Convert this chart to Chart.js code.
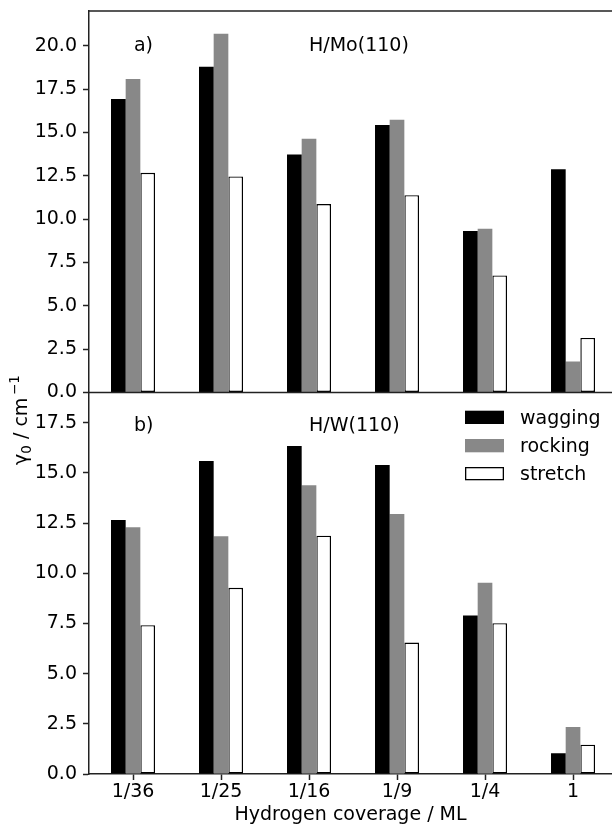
<!DOCTYPE html>
<html>
<head>
<meta charset="utf-8">
<script src="https://cdn.jsdelivr.net/npm/chart.js@4/dist/chart.umd.min.js"></script>
<style>
  html, body { margin: 0; padding: 0; background: #fff; overflow: hidden; }
  #c { display: block; }
</style>
</head>
<body>
<canvas id="c" width="612" height="826"></canvas>
<script>
// ---- data ----
const categories = ['1/36', '1/25', '1/16', '1/9', '1/4', '1'];
const seriesNames = ['wagging', 'rocking', 'stretch'];
const moWagging = [16.92, 18.79, 13.73, 15.42, 9.31, 12.88];
const moRocking = [18.08, 20.69, 14.63, 15.73, 9.44, 1.79];
const moStretch = [12.67, 12.46, 10.87, 11.38, 6.75, 3.15];
const wWagging  = [12.65, 15.59, 16.33, 15.39, 7.89, 1.03];
const wRocking  = [12.29, 11.84, 14.38, 12.95, 9.52, 2.34];
const wStretch  = [7.41, 9.27, 11.87, 6.55, 7.51, 1.46];
const yTicksTop = [0, 2.5, 5, 7.5, 10, 12.5, 15, 17.5, 20];
const yTicksBottom = [0, 2.5, 5, 7.5, 10, 12.5, 15, 17.5];
const panelTitles = ['H/Mo(110)', 'H/W(110)'];
const panelLetters = ['a)', 'b)'];
const xTitle = 'Hydrogen coverage / ML';

const FONT = 'DejaVu Sans';
const AX = '#222222';
Chart.defaults.font.family = FONT;
Chart.defaults.font.size = 19;
Chart.defaults.color = '#000';

const toPts = arr => arr.map((v, i) => ({ x: i, y: v }));
const styles = {
  wagging: { backgroundColor: '#000000', borderWidth: 0 },
  rocking: { backgroundColor: '#888888', borderWidth: 0 },
  stretch: { backgroundColor: '#ffffff', borderColor: '#000000', borderWidth: 1.4, borderSkipped: false }
};
function ds(name, values, axis) {
  return Object.assign({ label: name, data: toPts(values), yAxisID: axis, stack: name }, styles[name]);
}

const datasets = [
  ds('wagging', moWagging, 'yA'), ds('rocking', moRocking, 'yA'), ds('stretch', moStretch, 'yA'),
  ds('wagging', wWagging, 'yB'), ds('rocking', wRocking, 'yB'), ds('stretch', wStretch, 'yB')
];

function yAxis(ticksArr, max) {
  return {
    type: 'linear', position: 'left', stack: 'v', stackWeight: 1, stacked: false,
    min: 0, max: max, z: 1,
    afterBuildTicks: s => { s.ticks = ticksArr.map(v => ({ value: v })); },
    afterFit: s => { s.width = 89; s.paddingTop = 0; s.paddingBottom = 0; },
    ticks: { padding: 6, autoSkip: false, callback: v => Number(v).toFixed(1), font: { size: 19 }, color: '#000' },
    grid: { display: true, drawOnChartArea: false, drawTicks: true, tickLength: 6, tickColor: AX, tickWidth: 1.5 },
    border: { display: true, color: AX, width: 1.5 }
  };
}

const annot = {
  id: 'annot',
  afterDraw(chart) {
    const ctx = chart.ctx;
    const ca = chart.chartArea;
    const x = chart.scales.x, yA = chart.scales.yA, yB = chart.scales.yB;
    ctx.save();
    // top spine and shared middle spine
    ctx.strokeStyle = AX; ctx.lineWidth = 1.5;
    ctx.beginPath();
    ctx.moveTo(ca.left, yA.top); ctx.lineTo(ca.right, yA.top);
    ctx.moveTo(ca.left, yA.bottom); ctx.lineTo(ca.right, yA.bottom);
    ctx.stroke();
    // panel texts
    ctx.fillStyle = '#000';
    ctx.font = '19px "' + FONT + '"';
    ctx.textBaseline = 'alphabetic'; ctx.textAlign = 'left';
    ctx.fillText(panelLetters[0], x.getPixelForValue(0.01), yA.getPixelForValue(19.7));
    ctx.fillText(panelTitles[0], x.getPixelForValue(2.0), yA.getPixelForValue(19.7));
    ctx.fillText(panelLetters[1], x.getPixelForValue(0.01), yB.getPixelForValue(17.1));
    ctx.fillText(panelTitles[1], x.getPixelForValue(2.0), yB.getPixelForValue(17.1));
    // legend
    const lx = 465, hw = 39, hh = 13.3, rows = [410.7, 439.0, 467.0];
    seriesNames.forEach((n, i) => {
      const st = styles[n];
      ctx.fillStyle = st.backgroundColor;
      ctx.fillRect(lx, rows[i], hw, hh);
      if (st.borderWidth) {
        ctx.strokeStyle = '#000'; ctx.lineWidth = 1.3;
        ctx.strokeRect(lx + 0.65, rows[i] + 0.65, hw - 1.3, hh - 1.3);
      }
      ctx.fillStyle = '#000';
      ctx.fillText(n, 520, rows[i] + hh / 2 + 6.3);
    });
    // y label (rotated, with sub/superscript)
    ctx.translate(26.5, 420);
    ctx.rotate(-Math.PI / 2);
    const big = '19px "' + FONT + '"', small = '13.5px "' + FONT + '"';
    const parts = [
      { t: 'γ', f: big, dy: 0 },
      { t: '0', f: small, dy: 4 },
      { t: ' / cm', f: big, dy: 0 },
      { t: '\u2009\u22121', f: small, dy: -8 }
    ];
    let total = 0;
    parts.forEach(p => { ctx.font = p.f; p.w = ctx.measureText(p.t).width; total += p.w; });
    let cx = -total / 2;
    parts.forEach(p => { ctx.font = p.f; ctx.fillText(p.t, cx, p.dy); cx += p.w; });
    ctx.restore();
  }
};

new Chart(document.getElementById('c'), {
  type: 'bar',
  data: { datasets: datasets },
  options: {
    responsive: false,
    animation: false,
    events: [],
    layout: { padding: { top: 11, left: 0, right: 0, bottom: 0 } },
    datasets: { bar: { categoryPercentage: 0.5, barPercentage: 1.0, grouped: true } },
    plugins: { legend: { display: false }, tooltip: { enabled: false }, title: { display: false } },
    scales: {
      x: {
        type: 'linear', position: 'bottom', min: -0.5, max: 5.443, z: 1, offset: false,
        afterBuildTicks: s => { s.ticks = categories.map((c, i) => ({ value: i })); },
        afterFit: s => { s.height = 52; s.paddingLeft = 0; s.paddingRight = 0; },
        ticks: { padding: 1, autoSkip: false, maxRotation: 0, callback: v => categories[v] ?? '', font: { size: 19 }, color: '#000' },
        grid: { display: true, offset: false, drawOnChartArea: false, drawTicks: true, tickLength: 6, tickColor: AX, tickWidth: 1.5 },
        border: { display: true, color: AX, width: 1.5 },
        title: { display: true, text: xTitle, font: { size: 19 }, color: '#000', padding: { top: 0, bottom: 0 } }
      },
      yB: yAxis(yTicksBottom, 19),
      yA: yAxis(yTicksTop, 22)
    }
  },
  plugins: [annot]
});
</script>
</body>
</html>
